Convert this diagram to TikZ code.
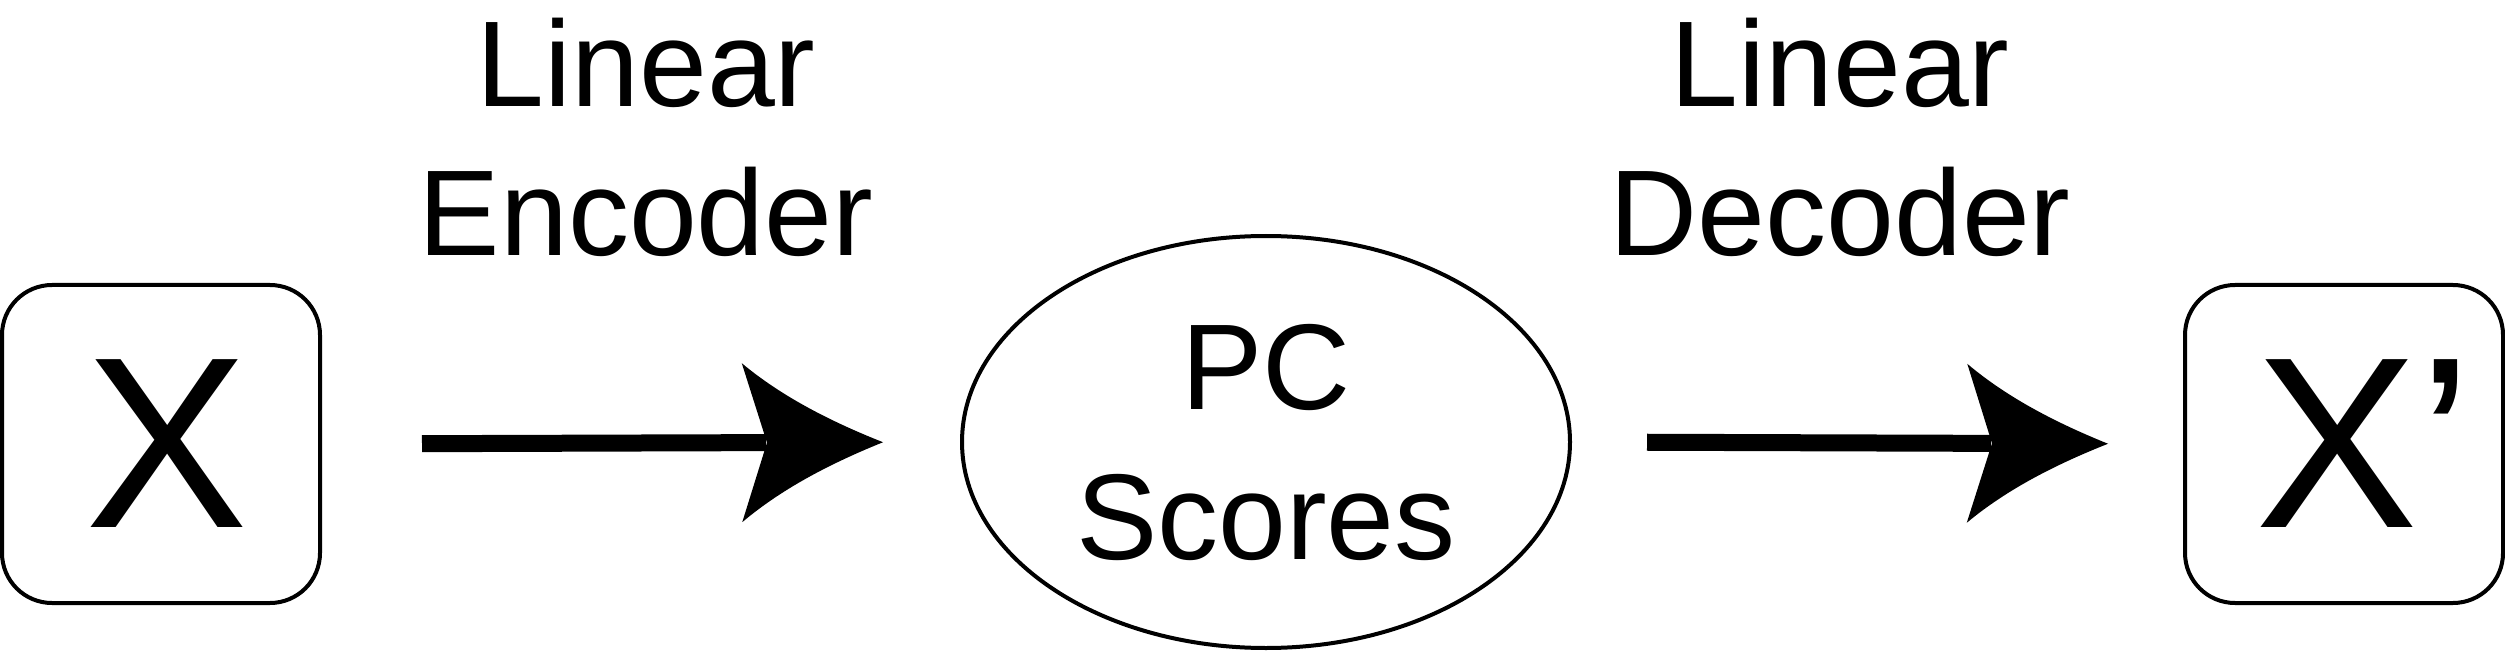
\documentclass[tikz,border=0pt]{standalone}
\usepackage{fontspec}
\setmainfont{Liberation Sans}
\usetikzlibrary{shapes.geometric,arrows.meta}
\pgfdeclarearrow{
  name = Swept,
  setup code = {
    \pgfarrowssettipend{0pt}
    \pgfarrowssetbackend{-141pt}
    \pgfarrowssetlineend{-117pt}
    \pgfarrowssetvisualbackend{-116pt}
    \pgfarrowshullpoint{0pt}{0pt}
    \pgfarrowsupperhullpoint{-141pt}{79.5pt}
  },
  drawing code = {
    \pgfpathmoveto{\pgfqpoint{0pt}{0pt}}
    \pgfpathcurveto{\pgfqpoint{-50pt}{20pt}}{\pgfqpoint{-100pt}{45pt}}{\pgfqpoint{-141pt}{79.5pt}}
    \pgfpathlineto{\pgfqpoint{-116pt}{0pt}}
    \pgfpathlineto{\pgfqpoint{-141pt}{-79.5pt}}
    \pgfpathcurveto{\pgfqpoint{-100pt}{-45pt}}{\pgfqpoint{-50pt}{-20pt}}{\pgfqpoint{0pt}{0pt}}
    \pgfpathclose
    \pgfusepathqfill
  }
}
\tikzset{
  databox/.style={draw, line width=4pt, rounded corners=50pt, minimum width=318pt, minimum height=318pt, inner sep=0pt, font=\fontsize{244}{280}\selectfont},
  pcnode/.style={draw, ellipse, line width=4pt, minimum width=608pt, minimum height=412pt, inner sep=0pt, align=center, font=\fontsize{122}{150}\selectfont},
  lbl/.style={align=center, inner sep=0pt, font=\fontsize{122}{149}\selectfont},
  flow/.style={line width=17pt, -Swept}
}
\begin{document}
\begin{tikzpicture}[x=1pt, y=-1pt]
\useasboundingbox (0,0) rectangle (2505,652);
\node[databox] (x) at (161,444) {\hspace*{12pt}X};
\node[pcnode] (pc) at (1266,442) {PC\\Scores};
\node[databox] (xp) at (2344,444) {\hspace*{40pt}X’};
\node[lbl] (enc) at (646,137) {Linear\\Encoder};
\node[lbl] (dec) at (1840,137) {Linear\\Decoder};
\draw[flow, shorten <=100pt, shorten >=77pt] (x.east) -- (pc.west);
\draw[flow, shorten <=75pt, shorten >=75pt] (pc.east) -- (xp.west);
\end{tikzpicture}
\end{document}
